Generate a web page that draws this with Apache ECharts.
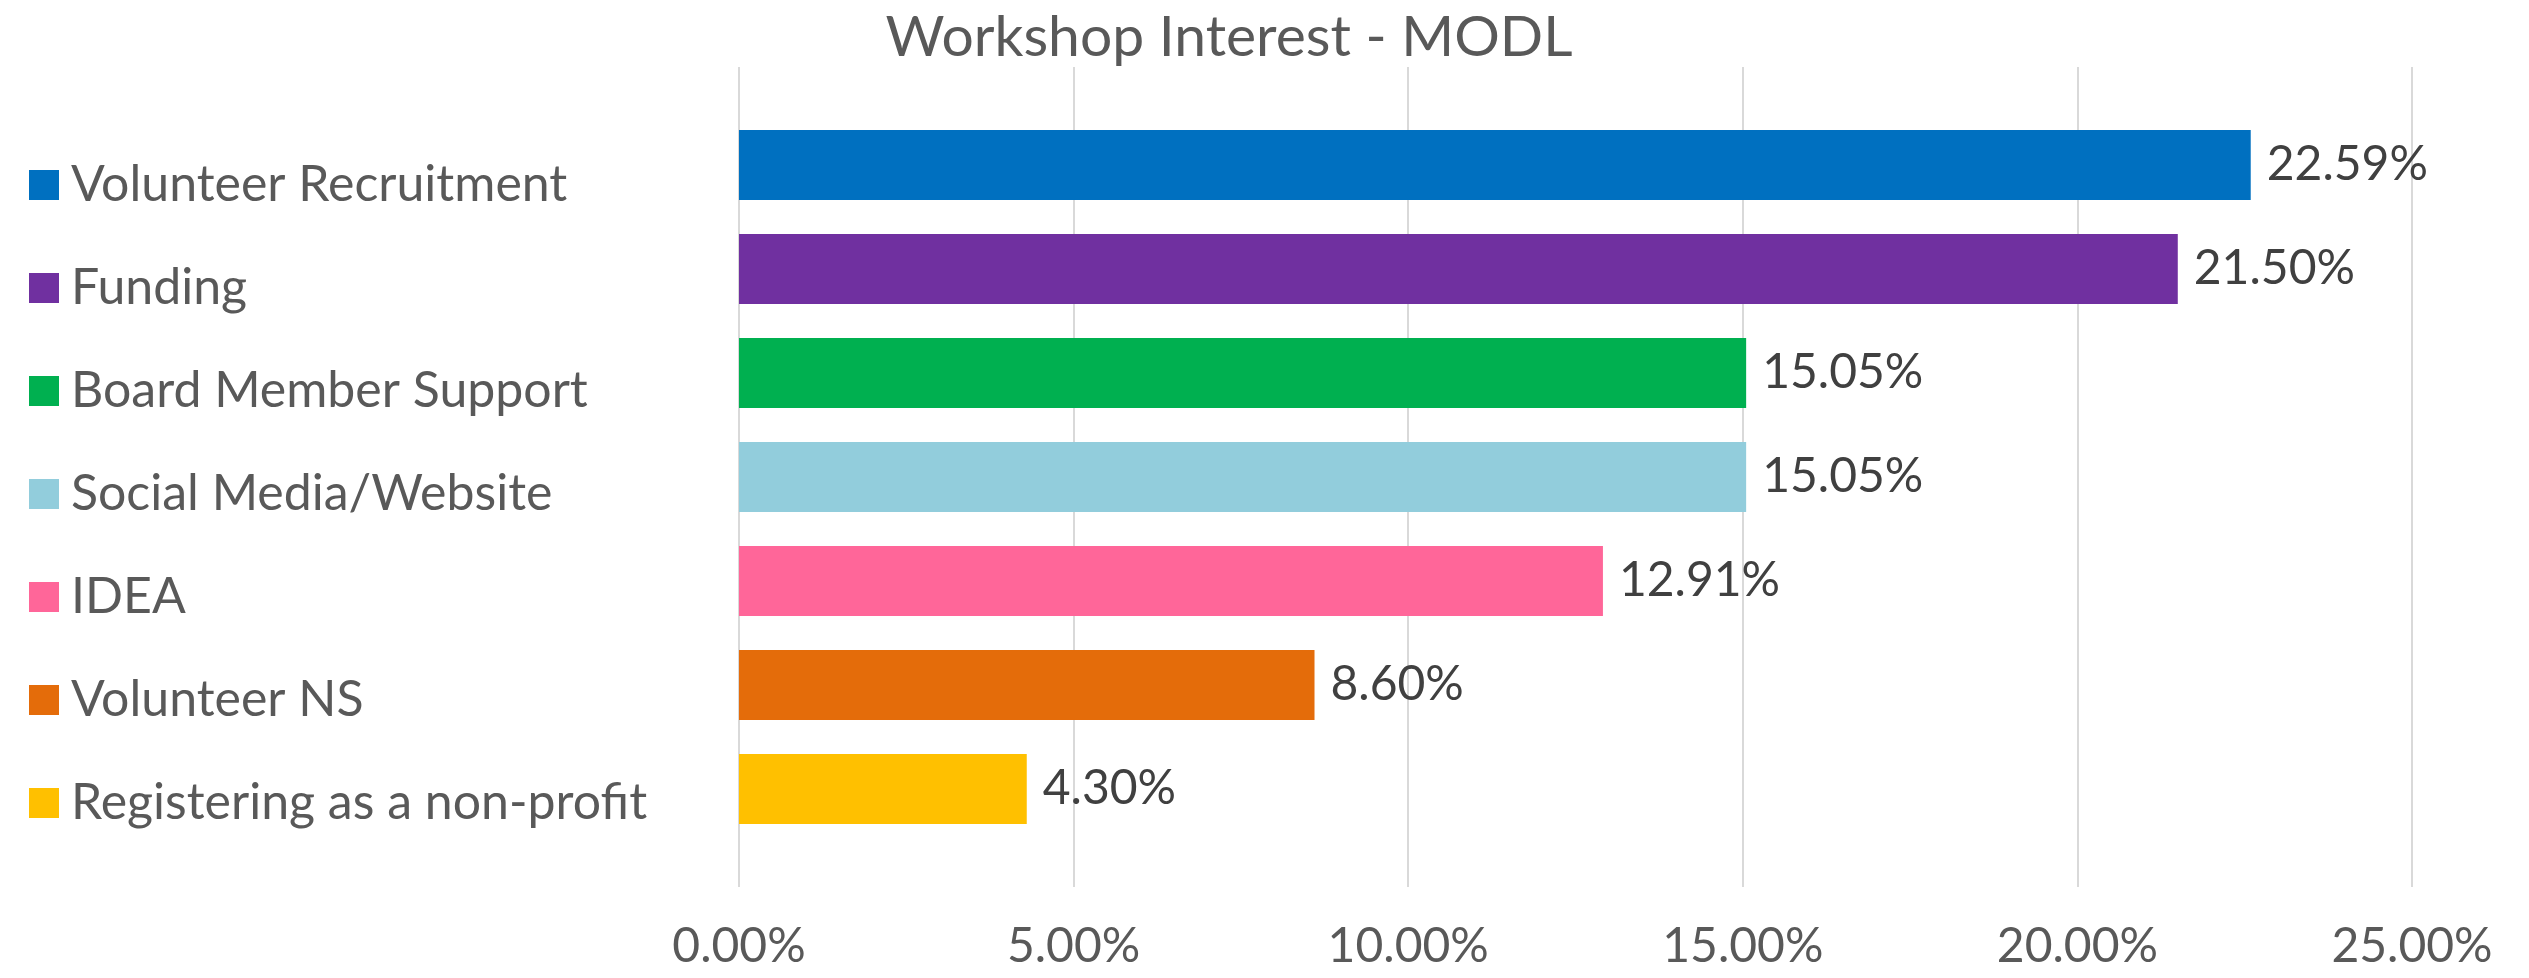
<!DOCTYPE html>
<html>
<head>
<meta charset="utf-8">
<script src="https://cdn.jsdelivr.net/npm/echarts@6/dist/echarts.min.js"></script>
<style>
html,body{margin:0;padding:0;background:#fff;}
#chart{width:2529px;height:978px;}
</style>
</head>
<body>
<div id="chart"></div>
<script>
const titleText = 'Workshop Interest - MODL';
const categories = ['Volunteer Recruitment','Funding','Board Member Support','Social Media/Website','IDEA','Volunteer NS','Registering as a non-profit'];
const values = [22.59, 21.50, 15.05, 15.05, 12.91, 8.60, 4.30];
const colors = ['#0070C0','#7030A0','#00B050','#92CDDC','#FF6699','#E46C0A','#FFC000'];
const axisMin = 0, axisMax = 25, axisStep = 5;

const FONT = 'Lato, "Open Sans", sans-serif';
const chart = echarts.init(document.getElementById('chart'), null, {renderer:'canvas'});

const series = categories.map((name, i) => ({
  name: name,
  type: 'bar',
  xAxisIndex: 1,
  yAxisIndex: 1,
  barWidth: 70,
  barGap: '-100%',
  itemStyle: {color: colors[i]},
  label: {
    show: true,
    position: 'right',
    distance: 16,
    color: '#404040',
    fontFamily: FONT,
    fontSize: 48,
    formatter: p => Number(p.value).toFixed(2) + '%'
  },
  data: categories.map((c, j) => j === i ? values[i] : '-'),
  animation: false
}));

chart.setOption({
  backgroundColor: '#ffffff',
  animation: false,
  title: {
    text: titleText,
    left: 1229,
    top: 9,
    padding: 0,
    textAlign: 'center',
    textStyle: {color: '#595959', fontFamily: FONT, fontSize: 57, fontWeight: 'normal'}
  },
  legend: {
    orient: 'vertical',
    left: 29,
    top: 155,
    padding: 0,
    itemWidth: 30,
    itemHeight: 30,
    itemGap: 43,
    icon: 'rect',
    selectedMode: false,
    data: categories,
    textStyle: {color: '#595959', fontFamily: FONT, fontSize: 50, lineHeight: 60, padding: [0,0,0,7]}
  },
  grid: [
    {left: 739, right: 117, top: 67, bottom: 91},
    {left: 739, right: 117, top: 113, bottom: 137}
  ],
  xAxis: [
    {
      gridIndex: 0, type: 'value', min: axisMin, max: axisMax, interval: axisStep,
      axisLine: {show: false}, axisTick: {show: false},
      splitLine: {show: true, lineStyle: {color: '#d9d9d9', width: 2}},
      axisLabel: {color: '#595959', fontFamily: FONT, fontSize: 48, margin: 36,
        formatter: v => v.toFixed(2) + '%'}
    },
    {
      gridIndex: 1, type: 'value', min: axisMin, max: axisMax, interval: axisStep, show: false,
      splitLine: {show: false}
    }
  ],
  yAxis: [
    {gridIndex: 0, type: 'value', show: false, splitLine: {show: false}},
    {
      gridIndex: 1, type: 'category', inverse: true, data: categories,
      axisLine: {show: false}, axisTick: {show: false}, axisLabel: {show: false},
      splitLine: {show: false}
    }
  ],
  series: series
});
</script>
</body>
</html>
